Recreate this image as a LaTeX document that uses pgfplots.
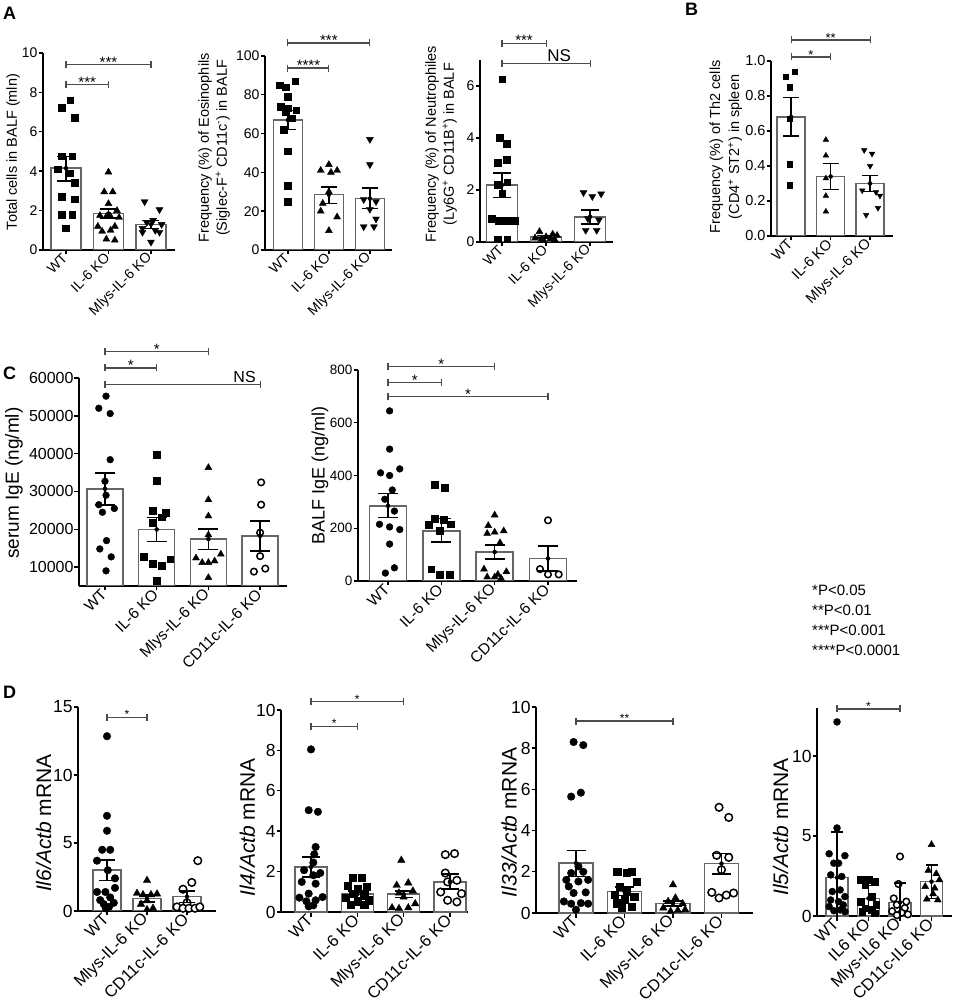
\documentclass[border=0pt]{standalone}
\usepackage{fontspec}
\setmainfont{Liberation Sans}
\usepackage{pgfplots}
\pgfplotsset{compat=1.18}

\newcommand{\fs}[1]{\fontsize{#1}{#1}\selectfont}

\pgfplotsset{
 gp/.style={
  scale only axis, anchor=south west,
  axis x line*=bottom, axis y line*=left,
  axis line style={-, line width=1.6pt, black},
  tick style={line width=1.4pt, black},
  major tick length=4.5pt, tick align=outside,
  clip mode=individual,
  scaled y ticks=false,
  /pgf/number format/assume math mode=true,
  /pgf/number format/1000 sep={},
  yticklabel style={inner sep=0.8pt},
  xticklabel style={rotate=45, anchor=east, inner sep=1.5pt},
  every axis y label/.style={rotate=90, anchor=center, align=center},
 },
 bars/.style={ybar, fill=white, draw=black!60, line width=1.5pt},
 ebar/.style={only marks, mark=none, black, error bars/.cd, y dir=both, y explicit,
   error bar style={line width=1.5pt, black},
   error mark options={rotate=90, mark size=#1, line width=1.5pt, black}},
 sq/.style={only marks, mark=square*, mark size=#1, black},
 tri/.style={only marks, mark=triangle*, mark size=#1, black},
 itri/.style={only marks, mark=triangle*, mark size=#1, black, mark options={rotate=180}},
 dot/.style={only marks, mark=*, mark size=#1, black},
 odot/.style={only marks, mark=*, mark size=#1, mark options={draw=black, fill=white, line width=1.5pt}},
}

% x1, x2, y, xmid, node options, text
\newcommand{\brk}[6]{%
  \draw[line width=1.1pt, black!70] (axis cs:#1,#3) -- (axis cs:#2,#3);
  \draw[line width=1.1pt, black!70] ([yshift=-3.5pt]axis cs:#1,#3) -- ([yshift=3.5pt]axis cs:#1,#3);
  \draw[line width=1.1pt, black!70] ([yshift=-3.5pt]axis cs:#2,#3) -- ([yshift=3.5pt]axis cs:#2,#3);
  \node[anchor=south, inner sep=1pt, #5] at (axis cs:#4,#3) {#6};}

\begin{document}
\begin{tikzpicture}
\useasboundingbox (0,0) rectangle (956pt,1007pt);

% panel letters
\node[anchor=north west, inner sep=0pt, font=\bfseries\fs{18}] at (3pt,1000pt) {A};
\node[anchor=north west, inner sep=0pt, font=\bfseries\fs{18}] at (685pt,1004pt) {B};
\node[anchor=north west, inner sep=0pt, font=\bfseries\fs{18}] at (3pt,640pt) {C};
\node[anchor=north west, inner sep=0pt, font=\bfseries\fs{18}] at (3pt,321pt) {D};

% significance legend
\node[anchor=base west, inner sep=0pt, font=\fs{15}] at (812pt,411pt) {*P<0.05};
\node[anchor=base west, inner sep=0pt, font=\fs{15}] at (812pt,391pt) {**P<0.01};
\node[anchor=base west, inner sep=0pt, font=\fs{15}] at (812pt,371pt) {***P<0.001};
\node[anchor=base west, inner sep=0pt, font=\fs{15}] at (812pt,351pt) {****P<0.0001};

% ---------------- A1 ----------------
\begin{axis}[gp, at={(43pt,757pt)}, width=132pt, height=197pt,
  xmin=0.46, xmax=3.565, ymin=0, ymax=10, ytick={0,2,...,10},
  xtick={1,2,3}, xticklabels={WT,IL-6 KO,Mlys-IL-6 KO},
  tick label style={font=\fs{14}},
  ylabel={Total cells in BALF (mln)},
  ylabel style={at={(axis description cs:-0.227,0.497)}, font=\fs{14.5}}]
\addplot[bars, bar width=30pt] coordinates {(1,4.15) (2,1.85) (3,1.3)};
\addplot[sq=3.3pt] coordinates {(1.1,7.6) (0.9,7.23) (1.2,6.73) (0.9,4.77) (1.15,4.77) (0.8,4.1) (1.1,3.9) (1.2,3.42) (0.9,2.72) (1.2,2.58) (0.9,1.79) (1.15,1.79) (1.0,1.11)};
\addplot[tri=4pt] coordinates {(2,3.95) (1.9,2.95) (2.1,2.95) (2,2.35) (2.2,2.0) (1.8,1.75) (2.05,1.7) (1.95,1.7) (2.25,1.65) (1.75,1.2) (2.15,1.2) (2.05,1.0) (1.85,0.95) (1.95,0.55) (2.15,0.5)};
\addplot[itri=4pt] coordinates {(2.85,2.45) (3.2,2.05) (3.05,1.5) (2.9,1.4) (3.25,1.3) (2.8,1.1) (3.1,1.0) (2.8,0.9) (3.2,0.9) (3,0.4)};
\addplot[ebar=8.5pt] coordinates {(1,4.15) += (0,0.6) -= (0,0.65) (2,1.85) += (0,0.22) -= (0,0.22) (3,1.3) += (0,0.2) -= (0,0.2)};
\brk{1}{2}{8.4}{1.5}{yshift=-4pt, font=\fs{15}}{***}
\brk{1}{3}{9.4}{2}{yshift=-4pt, font=\fs{15}}{***}
\end{axis}

% ---------------- A2 ----------------
\begin{axis}[gp, at={(265pt,757pt)}, width=127pt, height=194pt,
  xmin=0.44, xmax=3.54, ymin=0, ymax=100, ytick={0,20,...,100},
  xtick={1,2,3}, xticklabels={WT,IL-6 KO,Mlys-IL-6 KO},
  tick label style={font=\fs{14}},
  ylabel={Frequency (\%) of Eosinophils\\(Siglec-F\textsuperscript{+} CD11c\textsuperscript{-}) in BALF},
  ylabel style={at={(axis description cs:-0.40,0.526)}, font=\fontsize{14.5}{18}\selectfont}]
\addplot[bars, bar width=29pt] coordinates {(1,67) (2,28.5) (3,26.5)};
\addplot[sq=3.3pt] coordinates {(0.8,85) (0.95,84) (1.18,87) (1,79) (0.82,74) (1.0,73) (1.2,72) (0.95,71) (1.1,68) (0.9,62) (1,51) (1,33) (1,25)};
\addplot[tri=4pt] coordinates {(2,44) (1.8,41) (2.2,41) (2.05,40) (2,30) (1.85,24) (1.8,20) (2.2,17) (2,10)};
\addplot[itri=4pt] coordinates {(3,57) (3,44) (2.85,26) (3.15,25) (3,21) (3.15,16) (2.85,12) (3.1,12)};
\addplot[ebar=8pt] coordinates {(1,67) += (0,5) -= (0,5) (2,28.5) += (0,4) -= (0,4.5) (3,26.5) += (0,5.5) -= (0,5)};
\brk{1}{2}{93.8}{1.5}{yshift=-4pt, font=\fs{15}}{****}
\brk{1}{3}{106.7}{2}{yshift=-4pt, font=\fs{15}}{***}
\end{axis}

% ---------------- A3 ----------------
\begin{axis}[gp, at={(480pt,765pt)}, width=133pt, height=182pt,
  xmin=0.5, xmax=3.52, ymin=0, ymax=7, ytick={0,2,4,6},
  xtick={1,2,3}, xticklabels={WT,IL-6 KO,Mlys-IL-6 KO},
  tick label style={font=\fs{14}},
  ylabel={Frequency (\%) of Neutrophiles\\(Ly6G\textsuperscript{+} CD11B\textsuperscript{+}) in BALF},
  ylabel style={at={(axis description cs:-0.293,0.538)}, font=\fontsize{14.5}{18}\selectfont}]
\addplot[bars, bar width=31pt] coordinates {(1,2.2) (2,0.2) (3,0.97)};
\addplot[sq=3.3pt] coordinates {(1,6.26) (0.95,4.0) (1.1,3.78) (1.1,3.17) (0.9,3.05) (1.12,2.3) (0.9,2.2) (1,1.88) (0.76,0.9) (0.93,0.83) (1.11,0.83) (1.29,0.83) (0.9,0.1) (1.12,0.1)};
\addplot[tri=4pt] coordinates {(1.85,0.4) (2.15,0.3) (2.25,0.25) (2,0.2) (1.75,0.15) (2.1,0.12) (1.9,0.1) (2.2,0.08) (1.95,0.05)};
\addplot[itri=4pt] coordinates {(2.85,1.9) (3.05,1.75) (3.25,1.85) (2.95,0.9) (3.2,0.85) (2.9,0.45) (3.15,0.45)};
\addplot[ebar=9pt] coordinates {(1,2.2) += (0,0.45) -= (0,0.48) (2,0.2) += (0,0.05) -= (0,0.05) (3,0.97) += (0,0.27) -= (0,0.27)};
\brk{1}{2}{7.65}{1.5}{yshift=-4pt, font=\fs{15}}{***}
\brk{1}{3}{6.88}{2.3}{font=\fs{17}}{NS}
\end{axis}

% ---------------- B ----------------
\begin{axis}[gp, at={(771pt,771pt)}, width=122pt, height=175pt,
  xmin=0.49, xmax=3.58, ymin=0, ymax=1, ytick={0,0.2,0.4,0.6,0.8,1.0},
  yticklabel style={/pgf/number format/.cd, fixed, fixed zerofill, precision=1},
  xtick={1,2,3}, xticklabels={WT,IL-6 KO,Mlys-IL-6 KO},
  tick label style={font=\fs{14.5}},
  ylabel={Frequency (\%) of Th2 cells\\(CD4\textsuperscript{+} ST2\textsuperscript{+}) in spleen},
  ylabel style={at={(axis description cs:-0.369,0.509)}, font=\fontsize{14.5}{19}\selectfont}]
\addplot[bars, bar width=28pt] coordinates {(1,0.68) (2,0.34) (3,0.30)};
\addplot[sq=2.6pt] coordinates {(1.08,0.94) (0.87,0.91) (0.96,0.85) (0.96,0.67) (0.96,0.41) (0.96,0.29)};
\addplot[tri=3.2pt] coordinates {(1.88,0.55) (1.88,0.46) (1.88,0.33) (1.88,0.23) (1.88,0.14)};
\addplot[itri=3.2pt] coordinates {(2.85,0.49) (3.05,0.47) (3.0,0.40) (2.8,0.26) (3.15,0.25) (3.25,0.23) (3.2,0.16) (2.9,0.12)};
\addplot[ebar=8pt] coordinates {(1,0.68) += (0,0.11) -= (0,0.11) (2,0.34) += (0,0.075) -= (0,0.075) (3,0.30) += (0,0.045) -= (0,0.045)};
\brk{1}{2}{1.023}{1.5}{yshift=-4pt, font=\fs{13}}{*}
\brk{1}{3}{1.12}{2}{yshift=-4pt, font=\fs{13}}{**}
\end{axis}

% ---------------- C1 ----------------
\begin{axis}[gp, at={(79pt,421pt)}, width=208pt, height=208pt,
  xmin=0.497, xmax=4.52, ymin=5000, ymax=60000, ytick={10000,20000,...,60000},
  xtick={1,2,3,4}, xticklabels={WT,IL-6 KO,Mlys-IL-6 KO,CD11c-IL-6 KO},
  yticklabel style={font=\fs{16}}, xticklabel style={font=\fs{15.5}},
  ylabel={serum IgE (ng/ml)},
  ylabel style={at={(axis description cs:-0.3125,0.495)}, font=\fs{19}}]
\addplot[bars, bar width=36pt] coordinates {(1,30700) (2,19950) (3,17400) (4,18250)};
\addplot[dot=3.4pt] coordinates {(1.02,55200) (0.88,52000) (1.1,50600) (1.1,38400) (1,32700) (1.02,29000) (0.88,26500) (1.18,25500) (0.95,24500) (1.03,17000) (0.9,14800) (1.12,12700) (1.02,9000)};
\addplot[sq=3.4pt] coordinates {(2,39800) (2,32900) (1.92,25000) (2.18,24300) (2.1,23200) (1.92,21800) (1.75,12700) (2.26,12100) (1.92,11000) (2.1,10300) (2,6300)};
\addplot[tri=4pt] coordinates {(3,36300) (3,27800) (3,23500) (3,18500) (3.24,13400) (2.76,12400) (3.12,11600) (2.88,11200) (3,11200) (3,7200)};
\addplot[odot=3.3pt] coordinates {(4.02,32400) (4.02,26500) (4,19100) (4,12900) (3.88,8800) (4.1,9600)};
\addplot[ebar=10pt] coordinates {(1,30700) += (0,4200) -= (0,4300) (2,19950) += (0,3150) -= (0,3150) (3,17400) += (0,2650) -= (0,2700) (4,18250) += (0,4000) -= (0,4000)};
\brk{1}{3}{66900}{2}{yshift=-4pt, font=\fs{15}}{*}
\brk{1}{2}{62650}{1.5}{yshift=-4pt, font=\fs{15}}{*}
\brk{1}{4}{58400}{3.7}{font=\fs{16}}{NS}
\end{axis}

% ---------------- C2 ----------------
\begin{axis}[gp, at={(358pt,426pt)}, width=219pt, height=211pt,
  xmin=0.437, xmax=4.544, ymin=0, ymax=800, ytick={0,200,...,800},
  xtick={1,2,3,4}, xticklabels={WT,IL-6 KO,Mlys-IL-6 KO,CD11c-IL-6 KO},
  yticklabel style={font=\fs{13.5}}, xticklabel style={font=\fs{15.5}},
  ylabel={BALF IgE (ng/ml)},
  ylabel style={at={(axis description cs:-0.1735,0.498)}, font=\fs{18}}]
\addplot[bars, bar width=37pt] coordinates {(1,285) (2,190) (3,110) (4,85)};
\addplot[dot=3.4pt] coordinates {(1.03,645) (1.03,500) (1.22,425) (0.86,410) (1.03,400) (1.08,345) (0.94,310) (1.12,265) (0.84,215) (1.03,205) (1.22,195) (1.03,140) (1.12,50) (0.95,30)};
\addplot[sq=3.4pt] coordinates {(1.88,365) (2.06,355) (1.88,237) (2.05,233) (2.17,215) (1.77,212) (1.97,190) (1.81,45) (1.97,25) (2.16,25)};
\addplot[tri=4pt] coordinates {(3,250) (2.88,210) (3.17,190) (3,185) (2.86,180) (3.1,145) (2.8,45) (3.22,35) (3.06,25) (2.86,15) (3,15) (3.12,10)};
\addplot[odot=3.3pt] coordinates {(4,230) (3.85,45) (4.2,25) (4,25)};
\addplot[ebar=10pt] coordinates {(1,285) += (0,47) -= (0,45) (2,190) += (0,47) -= (0,42) (3,110) += (0,27) -= (0,27) (4,85) += (0,47) -= (0,47)};
\brk{1}{3}{812}{2}{yshift=-4pt, font=\fs{15}}{*}
\brk{1}{2}{752}{1.5}{yshift=-4pt, font=\fs{15}}{*}
\brk{1}{4}{699}{2.5}{yshift=-4pt, font=\fs{15}}{*}
\end{axis}

% ---------------- D1 ----------------
\begin{axis}[gp, at={(78pt,96pt)}, width=138pt, height=204pt,
  xmin=0.275, xmax=3.725, ymin=0, ymax=15, ytick={0,5,10,15},
  xtick={1,2,3}, xticklabels={WT,Mlys-IL-6 KO,CD11c-IL-6 KO},
  yticklabel style={font=\fs{17.5}}, xticklabel style={font=\fs{16.5}},
  ylabel={\textit{Il6/Actb} mRNA},
  ylabel style={at={(axis description cs:-0.25,0.431)}, font=\fs{21}}]
\addplot[bars, bar width=28pt] coordinates {(1,3.0) (2,0.92) (3,1.05)};
\addplot[dot=3.8pt] coordinates {(1,12.85) (1,7.0) (1,5.9) (0.88,4.5) (1.08,4.5) (0.75,3.7) (1.02,3.0) (1.2,2.4) (1.2,1.7) (0.75,1.4) (0.96,1.4) (1.08,1.0) (0.83,0.8) (1.17,0.6) (0.92,0.5) (1.05,0.3) (0.97,0.2)};
\addplot[tri=4.3pt] coordinates {(2,2.25) (1.75,1.3) (2.25,1.25) (1.9,1.2) (2.1,1.2) (2,0.75) (1.85,0.5) (2.15,0.2) (2,0.1)};
\addplot[odot=3.8pt] coordinates {(3.27,3.7) (3.12,2.1) (2.9,1.6) (3,0.6) (2.75,0.3) (2.9,0.2) (3.05,0.2) (3.2,0.2) (3.32,0.3)};
\addplot[ebar=8pt] coordinates {(1,3.0) += (0,0.74) -= (0,0.74) (2,0.92) += (0,0.25) -= (0,0.25) (3,1.05) += (0,0.42) -= (0,0.42)};
\brk{1}{2}{14.26}{1.5}{yshift=-3pt, font=\fs{12}}{*}
\end{axis}

% ---------------- D2 ----------------
\begin{axis}[gp, at={(281pt,95pt)}, width=187pt, height=202pt,
  xmin=0.352, xmax=4.39, ymin=0, ymax=10, ytick={0,2,...,10},
  xtick={1,2,3,4}, xticklabels={WT,IL-6 KO,Mlys-IL-6 KO,CD11c-IL-6 KO},
  yticklabel style={font=\fs{17.5}}, xticklabel style={font=\fs{16.5}},
  ylabel={\textit{Il4/Actb} mRNA},
  ylabel style={at={(axis description cs:-0.18,0.42)}, font=\fs{21}}]
\addplot[bars, bar width=32pt] coordinates {(1,2.23) (2,0.88) (3,0.88) (4,1.49)};
\addplot[dot=3.8pt] coordinates {(1,8.05) (0.95,5.04) (1.15,4.96) (1.1,3.22) (1.07,2.86) (1.05,2.45) (0.85,2.07) (1.2,1.93) (1.05,1.82) (0.8,1.49) (1.1,1.4) (0.95,0.91) (1.25,0.74) (0.75,0.71) (1.1,0.58) (0.9,0.53) (1.05,0.33) (0.95,0.28)};
\addplot[sq=3.6pt] coordinates {(1.9,1.69) (2.1,1.69) (1.8,1.32) (2.2,1.27) (2,1.16) (1.9,0.91) (2.15,0.83) (1.75,0.71) (2.25,0.58) (2,0.5) (1.85,0.38) (2.15,0.38)};
\addplot[tri=4.3pt] coordinates {(2.95,2.56) (3.1,1.44) (2.85,1.32) (3.2,1.04) (2.9,0.94) (3,0.74) (3.25,0.41) (2.75,0.21) (3.1,0.21) (2.9,0.17)};
\addplot[odot=3.8pt] coordinates {(4.1,2.89) (3.9,2.84) (3.9,1.93) (4.15,1.57) (3.95,1.49) (3.8,0.99) (4.25,0.91) (3.95,0.58) (4.15,0.5)};
\addplot[ebar=9pt] coordinates {(1,2.23) += (0,0.5) -= (0,0.5) (2,0.88) += (0,0.15) -= (0,0.15) (3,0.88) += (0,0.17) -= (0,0.17) (4,1.49) += (0,0.4) -= (0,0.35)};
\brk{1}{2}{9.2}{1.5}{yshift=-3pt, font=\fs{12}}{*}
\brk{1}{3}{10.4}{2}{yshift=-3pt, font=\fs{12}}{*}
\end{axis}

% ---------------- D3 ----------------
\begin{axis}[gp, at={(536pt,94pt)}, width=217pt, height=206pt,
  xmin=0.175, xmax=4.65, ymin=0, ymax=10, ytick={0,2,...,10},
  xtick={1,2,3,4}, xticklabels={WT,IL-6 KO,Mlys-IL-6 KO,CD11c-IL-6 KO},
  yticklabel style={font=\fs{17.5}}, xticklabel style={font=\fs{16.5}},
  ylabel={\textit{Il33/Actb} mRNA},
  ylabel style={at={(axis description cs:-0.124,0.44)}, font=\fs{21}}]
\addplot[bars, bar width=34pt] coordinates {(1,2.42) (2,1.05) (3,0.47) (4,2.4)};
\addplot[dot=3.8pt] coordinates {(0.95,8.3) (1.15,8.15) (1.1,5.84) (0.9,5.65) (1.05,2.26) (1.15,2.0) (0.9,1.94) (0.8,1.61) (1.25,1.61) (1.05,1.53) (0.85,1.29) (1.2,1.0) (0.95,0.97) (0.75,0.56) (1.1,0.48) (1.25,0.45) (0.9,0.45) (1,0.16)};
\addplot[sq=3.6pt] coordinates {(1.85,2.0) (2.15,2.0) (2.05,1.94) (2.25,1.53) (1.9,1.29) (2.05,1.05) (1.8,0.89) (2.2,0.81) (2,0.65) (1.85,0.48) (2.15,0.29) (1.95,0.24)};
\addplot[tri=4.3pt] coordinates {(3,1.37) (3.05,0.73) (2.9,0.56) (3.2,0.45) (2.8,0.24) (3.25,0.16) (3.1,0.13) (2.95,0.08)};
\addplot[odot=3.8pt] coordinates {(3.95,5.13) (4.15,4.64) (3.9,2.8) (4.15,2.7) (4,2.1) (3.8,1.0) (4.25,0.97) (3.95,0.73) (4.1,0.87)};
\addplot[ebar=9.5pt] coordinates {(1,2.42) += (0,0.62) -= (0,0.65) (2,1.05) += (0,0.2) -= (0,0.2) (3,0.47) += (0,0.12) -= (0,0.12) (4,2.4) += (0,0.5) -= (0,0.5)};
\brk{1}{3}{9.32}{2}{yshift=-3pt, font=\fs{12}}{**}
\end{axis}

% ---------------- D4 ----------------
\begin{axis}[gp, at={(817pt,91pt)}, width=135pt, height=208pt,
  xmin=0.365, xmax=4.65, ymin=0, ymax=13, ytick={0,5,10},
  xtick={1,2,3,4}, xticklabels={WT,IL6 KO,Mlys-IL6 KO,CD11c-IL6 KO},
  yticklabel style={font=\fs{17.5}}, xticklabel style={font=\fs{16.5}},
  ylabel={\textit{Il5/Actb} mRNA},
  ylabel style={at={(axis description cs:-0.27,0.428)}, font=\fs{21}}]
\addplot[bars, bar width=22pt] coordinates {(1,2.4) (2,1.1) (3,0.85) (4,2.15)};
\addplot[dot=3.5pt] coordinates {(1,12.13) (1,5.5) (0.75,3.89) (1.25,3.77) (1.05,3.3) (0.9,3.3) (0.8,2.57) (1.15,2.47) (1.1,1.63) (0.85,1.53) (1.25,1.21) (0.8,1.0) (1.05,0.9) (1.2,0.69) (0.75,0.59) (1.1,0.38) (0.9,0.33) (1.25,0.27)};
\addplot[sq=3.3pt] coordinates {(1.75,2.26) (2,2.26) (2.2,2.15) (1.9,1.95) (2.1,1.21) (1.75,0.9) (2.25,0.69) (1.9,0.48) (2.1,0.38) (1.8,0.27) (2.2,0.17)};
\addplot[odot=3.3pt] coordinates {(3,3.72) (2.95,2.0) (2.8,1.1) (3.2,0.9) (2.9,0.7) (3.15,0.5) (2.75,0.3) (3.05,0.2) (3.25,0.1) (2.9,0.05)};
\addplot[tri=4pt] coordinates {(4,4.46) (3.9,2.85) (4.15,2.64) (4.25,2.26) (3.8,1.84) (4.1,1.74) (4.05,1.38) (3.85,1.05) (4.2,1.0)};
\addplot[ebar=6pt] coordinates {(1,2.4) += (0,2.85) -= (0,2.85) (2,1.1) += (0,0.8) -= (0,0.8) (3,0.85) += (0,1.2) -= (0,1.2) (4,2.15) += (0,1.05) -= (0,1.05)};
\brk{1}{3}{12.94}{2}{yshift=-3pt, font=\fs{12}}{*}
\end{axis}
\end{tikzpicture}
\end{document}
